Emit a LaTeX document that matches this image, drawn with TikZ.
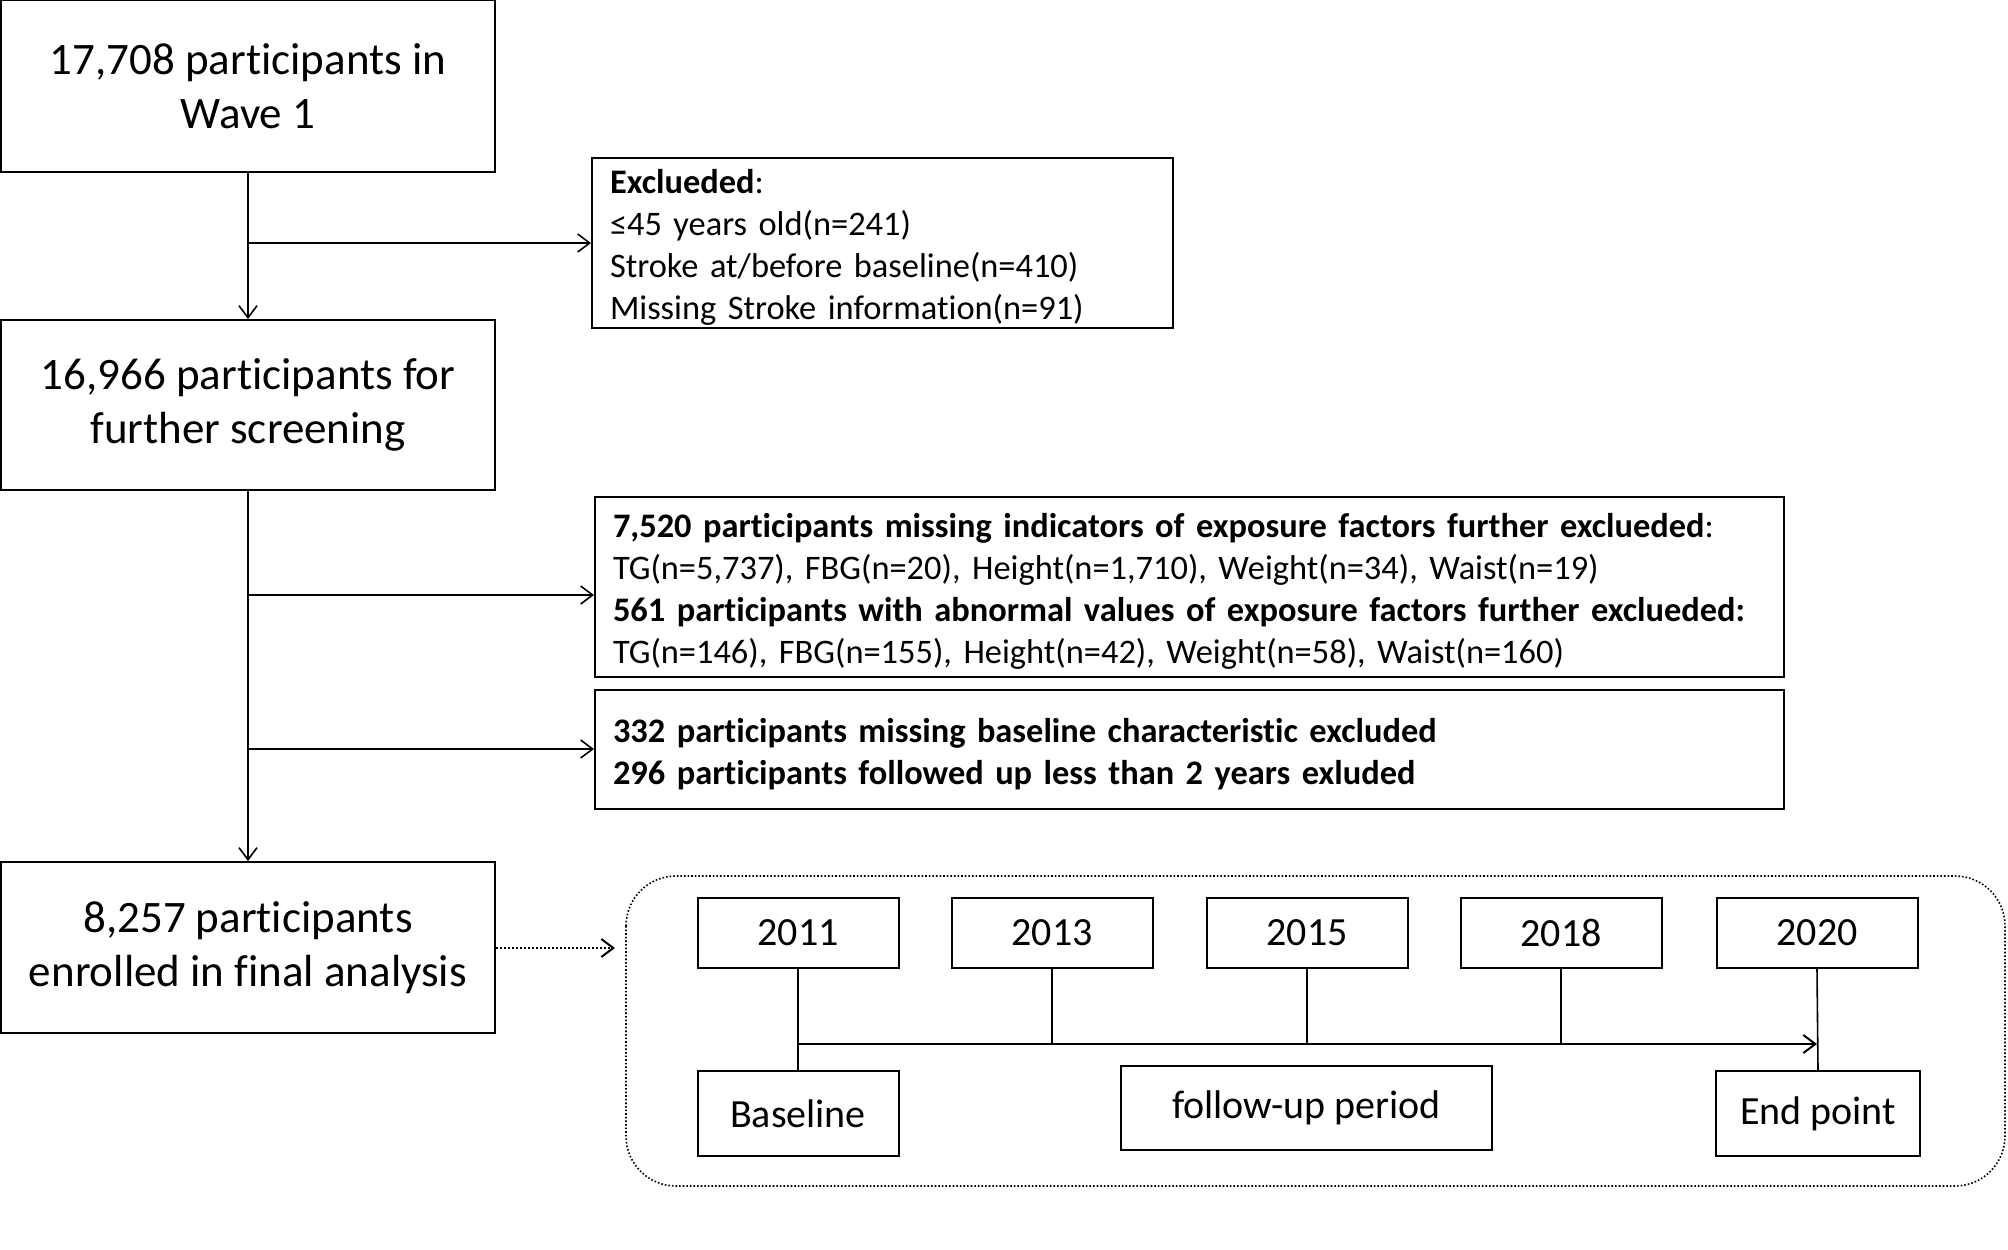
\documentclass[tikz,border=0pt]{standalone}
\usepackage{fontspec}
\setmainfont{Carlito}[Ligatures=CommonOff]
\usetikzlibrary{arrows.meta}
\begin{document}
\begin{tikzpicture}[x=0.5pt, y=-0.5pt, >={Straight Barb[length=6pt,width=9pt]},
  box/.style={draw, line width=1pt, align=center, inner sep=0pt, minimum width=247pt,
    font=\fontsize{22.5}{27}\selectfont},
  note/.style={draw, line width=1pt, align=left, inner xsep=9pt, inner ysep=0pt,
    text width=#1, font=\fontsize{17.2}{21}\selectfont,
    execute at begin node={\rule{0pt}{16.5pt}}},
  yearbox/.style={draw, line width=1pt, inner sep=0pt, minimum height=35pt,
    minimum width=100.5pt, font=\fontsize{20}{24}\selectfont}]
\useasboundingbox (0,0) rectangle (2008,1249);
\node[box, minimum height=86pt] (wave) at (248,86) {17,708 participants in\\Wave 1};
\node[box, minimum height=85pt] (screen) at (248,405) {16,966 participants for\\further screening};
\node[box, minimum height=85.5pt] (final) at (248,947.5) {8,257 participants\\enrolled in final analysis};
\node[note=272.5pt, minimum height=85pt] (excl) at (882.5,243)
  {\textbf{Exclueded}:\\ ≤45 years old(n=241)\\ Stroke at/before baseline(n=410)\\ Missing Stroke information(n=91)};
\node[note=576.5pt, minimum height=90pt] (miss) at (1189.5,587)
  {\textbf{7,520 participants missing indicators of exposure factors further exclueded}:\\
   TG(n=5,737), FBG(n=20), Height(n=1,710), Weight(n=34), Waist(n=19)\\
   \textbf{561 participants with abnormal values of exposure factors further exclueded:}\\
   TG(n=146), FBG(n=155), Height(n=42), Weight(n=58), Waist(n=160)};
\node[note=576.5pt, minimum height=59.5pt] (lost) at (1189.5,749.5)
  {\textbf{332 participants missing baseline characteristic excluded}\\
   \textbf{296 participants followed up less than 2 years exluded}};
% trunk and branches
\coordinate (b1) at (248,243);
\coordinate (b2) at (248,595);
\coordinate (b3) at (248,749);
\draw[->, line width=0.8pt] (wave) -- (screen);
\draw[->, line width=0.8pt] (screen) -- (final);
\draw[->, line width=0.8pt] (b1) -- (b1 -| excl.west);
\draw[->, line width=0.8pt] (b2) -- (b2 -| miss.west);
\draw[->, line width=0.8pt] (b3) -- (b3 -| lost.west);
% follow-up timeline
\draw[densely dotted, line width=0.8pt, rounded corners=25pt] (626,876) rectangle (2005,1186);
\coordinate (tl) at (615,948);
\draw[->, densely dotted, line width=1pt] (final.east |- tl) -- (tl);
\foreach \yr/\cx in {2011/798, 2013/1052, 2015/1307, 2018/1561, 2020/1817}
  \node[yearbox] (y\yr) at (\cx,933) {\yr};
\node[yearbox, minimum height=42.5pt] (base) at (798,1113.5) {Baseline};
\node[yearbox, minimum height=42pt, minimum width=185.5pt] (follow) at (1306.5,1108) {follow-up period};
\node[yearbox, minimum height=42.5pt, minimum width=102pt] (endp) at (1818,1113.5) {End point};
\coordinate (t0) at (798,1044);
\coordinate (t1) at (1817,1044);
\draw[->, line width=1pt] (t0) -- (t1);
\draw[line width=0.8pt] (y2011.south) -- (base.north);
\draw[line width=0.8pt] (y2020.south) -- (endp.north);
\foreach \yr in {2013,2015,2018}
  \draw[line width=0.6pt] (y\yr.south) -- (y\yr.south |- t0);
\end{tikzpicture}
\end{document}
